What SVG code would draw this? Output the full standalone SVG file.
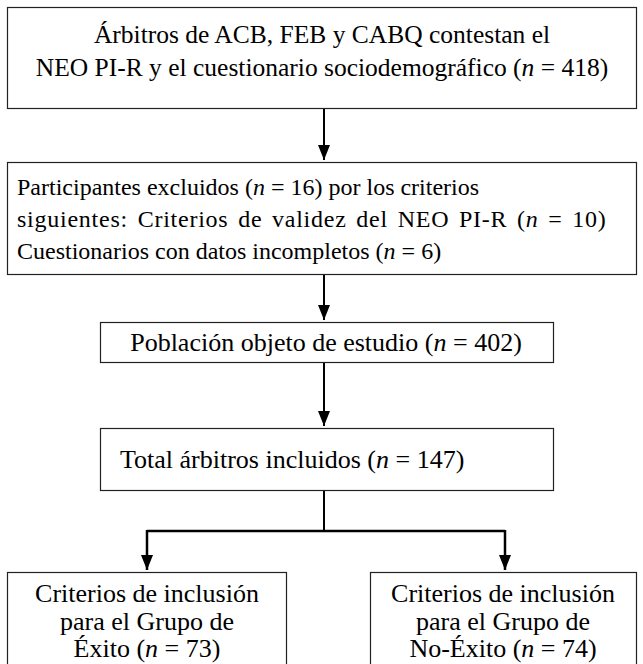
<svg xmlns="http://www.w3.org/2000/svg" width="643" height="664" viewBox="0 0 643 664">
<defs>
<marker id="ah" markerWidth="15" markerHeight="12" refX="15" refY="6" orient="auto" markerUnits="userSpaceOnUse" viewBox="0 0 15 12">
<path d="M0,0 L15,6 L0,12 Z" fill="#000"/>
</marker>
<style>
.box{fill:#fff;stroke:#222;stroke-width:1.2}
.t{font-family:"Liberation Serif","Times New Roman",serif;font-size:26px;fill:#000}
.t1{font-size:25.5px}
.t2{font-size:24px}
.c{text-anchor:middle}
.ln{fill:none;stroke:#000;stroke-width:2}
.lb{fill:none;stroke:#000;stroke-width:2.5}
</style>
</defs>
<rect width="643" height="664" fill="#fff"/>
<g id="connectors">
<line class="ln" x1="324" y1="108" x2="324" y2="160" marker-end="url(#ah)"/>
<line class="ln" x1="324" y1="274" x2="324" y2="320" marker-end="url(#ah)"/>
<line class="ln" x1="324" y1="362" x2="324" y2="426" marker-end="url(#ah)"/>
<polyline class="ln" points="324,490 324,531"/>
<polyline class="lb" points="147,531 505,531"/>
<line class="lb" x1="147" y1="530" x2="147" y2="570" marker-end="url(#ah)"/>
<line class="lb" x1="505" y1="530" x2="505" y2="570" marker-end="url(#ah)"/>
</g>
<g id="n1">
<rect class="box" x="7.5" y="7.5" width="629" height="101"/>
<text class="t t1 c" x="322" y="43">Árbitros de ACB, FEB y CABQ contestan el</text>
<text class="t t1 c" x="322" y="76">NEO PI-R y el cuestionario sociodemográfico (<tspan font-style="italic">n</tspan> = 418)</text>
</g>
<g id="n2">
<rect class="box" x="7.5" y="162.5" width="629" height="112"/>
<text class="t t2" x="17" y="195">Participantes excluidos (<tspan font-style="italic">n</tspan> = 16) por los criterios</text>
<text class="t t2" x="17" y="227" word-spacing="3" letter-spacing="0.75">siguientes: Criterios de validez del NEO PI-R (<tspan font-style="italic">n</tspan> = 10)</text>
<text class="t t2" x="17" y="259">Cuestionarios con datos incompletos (<tspan font-style="italic">n</tspan> = 6)</text>
</g>
<g id="n3">
<rect class="box" x="100.5" y="322.5" width="453" height="40"/>
<text class="t c" x="326" y="351">Población objeto de estudio (<tspan font-style="italic">n</tspan> = 402)</text>
</g>
<g id="n4">
<rect class="box" x="100.5" y="428.5" width="453" height="62"/>
<text class="t" x="120" y="468">Total árbitros incluidos (<tspan font-style="italic">n</tspan> = 147)</text>
</g>
<g id="n5">
<rect class="box" x="7.5" y="572.5" width="279" height="110"/>
<text class="t c" x="147" y="602">Criterios de inclusión</text>
<text class="t c" x="147" y="630">para el Grupo de</text>
<text class="t c" x="147" y="657">Éxito (<tspan font-style="italic">n</tspan> = 73)</text>
</g>
<g id="n6">
<rect class="box" x="370.5" y="572.5" width="266" height="110"/>
<text class="t c" x="503" y="602">Criterios de inclusión</text>
<text class="t c" x="503" y="630">para el Grupo de</text>
<text class="t c" x="503" y="657">No-Éxito (<tspan font-style="italic">n</tspan> = 74)</text>
</g>
</svg>
